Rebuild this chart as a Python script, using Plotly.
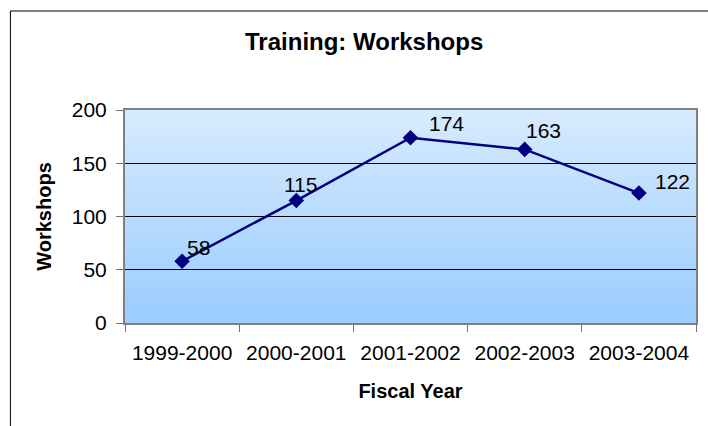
import base64
import plotly.graph_objects as go

# ---- data ----
fiscal_years = ["1999-2000", "2000-2001", "2001-2002", "2002-2003", "2003-2004"]
workshops = [58, 115, 174, 163, 122]
y_ticks = [0, 50, 100, 150, 200]

# ---- style ----
label_offsets = [(16, 14), (4, 16), (36, 14), (19, 19), (34, 12)]  # (xshift, yshift) px
FONT = "Liberation Sans, Arial, sans-serif"
NAVY = "#000080"
TXT = 21

W, H = 708, 426
ML, MR, MT, MB = 125, 10, 110, 103
pw, ph = W - ML - MR, H - MT - MB

svg = (
    '<svg xmlns="http://www.w3.org/2000/svg" width="100" height="100" preserveAspectRatio="none">'
    '<defs><linearGradient id="g" x1="0" y1="0" x2="0" y2="1">'
    '<stop offset="0" stop-color="#D7EBFE"/><stop offset="1" stop-color="#99CCFF"/>'
    '</linearGradient></defs><rect width="100" height="100" fill="url(#g)"/></svg>'
)
bg_src = "data:image/svg+xml;base64," + base64.b64encode(svg.encode()).decode()

fig = go.Figure()
fig.add_trace(go.Scatter(
    x=fiscal_years, y=workshops, mode="lines+markers",
    line=dict(color=NAVY, width=2.5),
    marker=dict(symbol="diamond", size=12, color=NAVY),
    hoverinfo="x+y", showlegend=False,
))

for i, (cat, val) in enumerate(zip(fiscal_years, workshops)):
    dx, dy = label_offsets[i]
    fig.add_annotation(
        x=cat, y=val, text=str(val), showarrow=False,
        xshift=dx, yshift=dy, font=dict(family=FONT, size=TXT, color="black"),
    )

# outer chart border (left & top visible)
x_left = (10 - ML) / pw
x_right = (W + 5 - ML) / pw
y_top = 1 + (MT - 11) / ph
y_bot = -(H + 5 - (MT + ph)) / ph
fig.add_shape(type="line", xref="paper", yref="paper", x0=x_left, x1=x_left,
              y0=y_bot, y1=y_top, line=dict(color="black", width=1))
fig.add_shape(type="line", xref="paper", yref="paper", x0=x_left, x1=x_right,
              y0=y_top, y1=y_top, line=dict(color="black", width=1))

fig.add_layout_image(dict(
    source=bg_src, xref="paper", yref="paper", x=0, y=1, sizex=1, sizey=1,
    xanchor="left", yanchor="top", sizing="stretch", layer="below",
))

fig.update_layout(
    width=W, height=H,
    margin=dict(l=ML, r=MR, t=MT, b=MB),
    paper_bgcolor="white", plot_bgcolor="rgba(0,0,0,0)",
    font=dict(family=FONT, size=TXT, color="black"),
    title=dict(text="<b>Training: Workshops</b>", x=(365 - ML) / pw, xref="paper",
               xanchor="center", y=1 - 42 / H, yanchor="middle",
               font=dict(family=FONT, size=24, color="black")),
)
fig.update_xaxes(
    type="category", range=[-0.5, 4.5], tickson="boundaries",
    ticks="outside", ticklen=7, tickcolor="#707070", tickwidth=1,
    showline=True, linecolor="#808080", linewidth=2, mirror=True,
    showgrid=False, zeroline=False, ticklabelstandoff=10,
    tickfont=dict(family=FONT, size=TXT, color="black"),
    title=dict(text="<b>Fiscal Year</b>", standoff=21,
               font=dict(family=FONT, size=TXT - 1, color="black")),
)
fig.update_yaxes(
    range=[0, 200], tickvals=y_ticks, ticktext=[str(v) for v in y_ticks],
    ticks="outside", ticklen=7, tickcolor="#707070", tickwidth=1,
    showline=True, linecolor="#808080", linewidth=2, mirror=True,
    showgrid=True, gridcolor="black", gridwidth=1, zeroline=False,
    ticklabelstandoff=5,
    tickfont=dict(family=FONT, size=TXT, color="black"),
    title=dict(text="<b>Workshops</b>", standoff=15,
               font=dict(family=FONT, size=TXT - 1, color="black")),
)

fig.write_html("out.html", config={"displayModeBar": False},
               post_script="document.body.style.margin='0';")
